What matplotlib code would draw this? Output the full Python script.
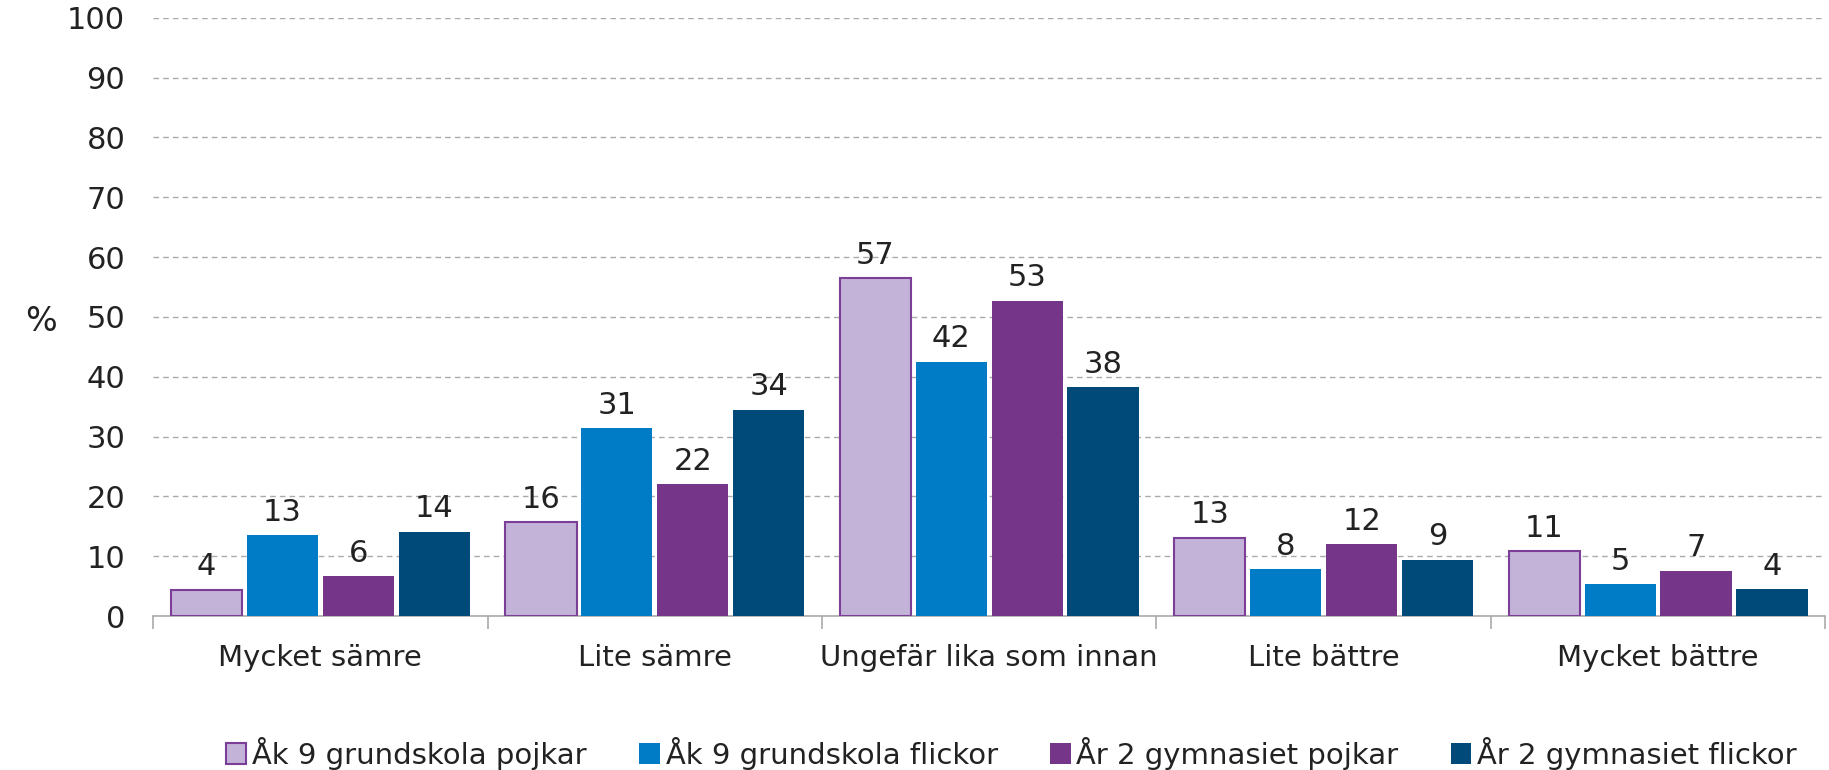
import numpy as np
import matplotlib.pyplot as plt
from matplotlib.ticker import FixedLocator

# %% Data
categories = ['Mycket sämre', 'Lite sämre', 'Ungefär lika som innan', 'Lite bättre', 'Mycket bättre']
series_names = ['Åk 9 grundskola pojkar', 'Åk 9 grundskola flickor',
                'År 2 gymnasiet pojkar', 'År 2 gymnasiet flickor']

ak9_pojkar = [4.4, 15.7, 56.5, 13.1, 10.8]
ak9_flickor = [13.5, 31.4, 42.5, 7.8, 5.3]
ar2_pojkar = [6.7, 22.0, 52.7, 12.0, 7.6]
ar2_flickor = [14.1, 34.5, 38.2, 9.4, 4.5]

# data labels as printed in the chart
ak9_pojkar_lbl = [4, 16, 57, 13, 11]
ak9_flickor_lbl = [13, 31, 42, 8, 5]
ar2_pojkar_lbl = [6, 22, 53, 12, 7]
ar2_flickor_lbl = [14, 34, 38, 9, 4]

yticks = list(range(0, 101, 10))

colors = ['#C3B3D8', '#007CC7', '#753589', '#004A7A']
edges = ['#7B3F98', '#007CC7', '#753589', '#004A7A']

# %% Plot
plt.rcParams['font.family'] = 'DejaVu Sans'
fs = 21
fs_num = 22

fig = plt.figure(figsize=(18.29, 7.70), dpi=100)
ax = fig.add_axes([0.0837, 0.2, 0.9143, 0.777])

all_vals = [ak9_pojkar, ak9_flickor, ar2_pojkar, ar2_flickor]
all_lbls = [ak9_pojkar_lbl, ak9_flickor_lbl, ar2_pojkar_lbl, ar2_flickor_lbl]

x = np.arange(len(categories))
width = 0.213
pitch = 0.227
offsets = (np.arange(4) - 1.5) * pitch

for i, (vals, lbls) in enumerate(zip(all_vals, all_lbls)):
    lw = 1.5 if i == 0 else 0
    bars = ax.bar(x + offsets[i], vals, width, color=colors[i], edgecolor=edges[i],
                  linewidth=lw, label=series_names[i], zorder=3)
    for b, lab in zip(bars, lbls):
        ax.annotate(str(lab), (b.get_x() + b.get_width() / 2, b.get_height()),
                    xytext=(0, 6), textcoords='offset points',
                    ha='center', va='bottom', fontsize=fs_num, color='#222222')

ax.set_xlim(-0.5, len(categories) - 0.5)
ax.set_ylim(0, 100)
ax.set_yticks(yticks)
ax.yaxis.grid(True, linestyle=(0, (4, 3)), color='#AAAAAA', linewidth=1)
ax.set_axisbelow(True)

for s in ['top', 'right', 'left']:
    ax.spines[s].set_visible(False)
ax.spines['bottom'].set_color('#AAAAAA')
ax.spines['bottom'].set_linewidth(1.2)

ax.set_xticks(x)
ax.set_xticklabels(categories, fontsize=fs, color='#222222')
ax.tick_params(axis='x', which='major', length=0, pad=20)
ax.xaxis.set_minor_locator(FixedLocator(np.arange(-0.5, len(categories), 1.0)))
ax.tick_params(axis='x', which='minor', length=9, color='#AAAAAA', width=1.2)
ax.tick_params(axis='y', length=0, labelsize=fs_num, labelcolor='#222222', pad=20)

fig.text(0.0225, 0.583, '%', fontsize=fs_num + 2, color='#222222', ha='center', va='center')

leg = fig.legend(loc='center', bbox_to_anchor=(0.553, 0.022), ncol=4, frameon=False,
                 fontsize=fs, handlelength=0.7, handleheight=0.7, handletextpad=0.2,
                 columnspacing=1.8)
for t in leg.get_texts():
    t.set_color('#222222')

fig.savefig('out.png', dpi=100)
